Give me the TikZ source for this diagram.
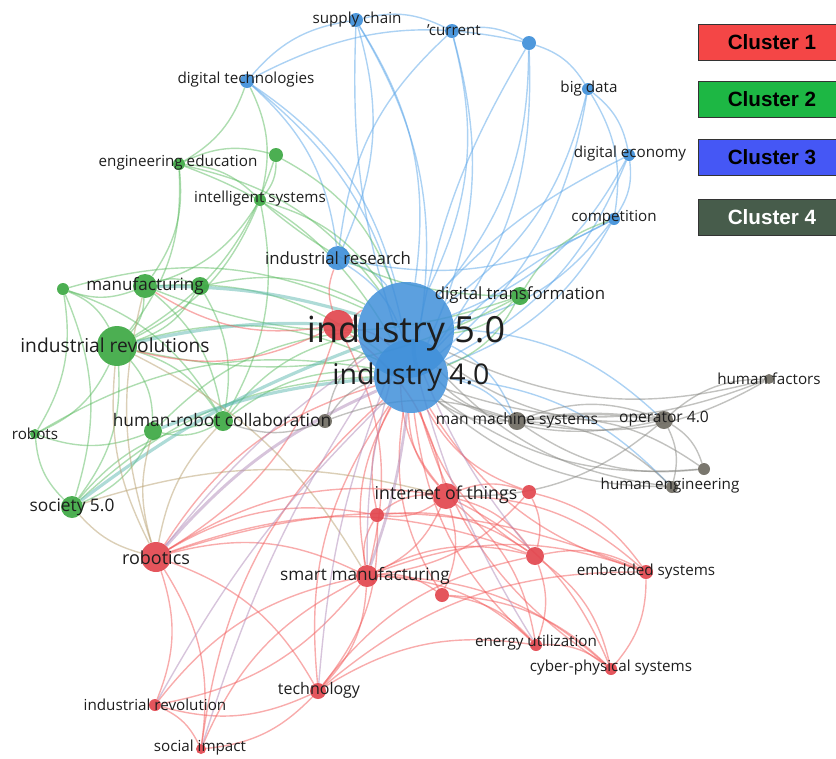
\documentclass[tikz,border=0pt]{standalone}
\usepackage{fontspec}
\setmainfont{Open Sans}
\newfontfamily\legendfont{Liberation Sans}
\usetikzlibrary{shadows}
\pgfdeclarelayer{edges}
\pgfsetlayers{edges,main}

\definecolor{nblue}{HTML}{3F8FD9}
\definecolor{ngreen}{HTML}{3DA843}
\definecolor{nred}{HTML}{E2464E}
\definecolor{ngrey}{HTML}{6F6B62}
\definecolor{eblue}{HTML}{5AA5E8}
\definecolor{egreen}{HTML}{5DBB62}
\definecolor{ered}{HTML}{F25A5A}
\definecolor{egrey}{HTML}{858580}
\definecolor{eteal}{HTML}{5EB8B0}
\definecolor{emauve}{HTML}{B08AB8}
\definecolor{eolive}{HTML}{B8A070}
\definecolor{lred}{HTML}{F44646}
\definecolor{lgreen}{HTML}{1DB744}
\definecolor{lblue}{HTML}{4557F5}
\definecolor{lgrey}{HTML}{475C4B}
\definecolor{txt}{HTML}{1E1E1E}

\tikzset{
  kw/.style={circle, inner sep=0pt, minimum size=#1*1.5pt, fill opacity=0.92},
  bn/.style={kw=#1, fill=nblue},
  gn/.style={kw=#1, fill=ngreen},
  rn/.style={kw=#1, fill=nred},
  yn/.style={kw=#1, fill=ngrey},
  lab/.style={text=txt, inner sep=0pt, font=\fontsize{#1pt}{#1pt}\selectfont},
  edge/.style={draw opacity=0.5, line width=1.05pt},
  eb/.style={edge, draw=eblue},
  eg/.style={edge, draw=egreen},
  er/.style={edge, draw=ered},
  ey/.style={edge, draw=egrey},
  et/.style={edge, draw=eteal},
  em/.style={edge, draw=emauve},
  eo/.style={edge, draw=eolive},
  legbox/.style={draw=black!80, line width=0.6pt, minimum width=110pt, minimum height=27pt,
     inner sep=0pt, font=\legendfont\bfseries\fontsize{15.5pt}{15.5pt}\selectfont,
     drop shadow={shadow xshift=1pt, shadow yshift=-1pt, opacity=0.35}}
}

\begin{document}
\begin{tikzpicture}[x=0.75pt,y=-0.75pt]
\useasboundingbox (0,0) rectangle (836,758);

% ---------------- nodes ----------------
% cluster 3 (blue)
\node[bn=48, fill opacity=0.85] (i5) at (406,330) {};
\node[bn=37, fill opacity=0.85] (i4) at (411,376) {};
\node[bn=12] (ir)  at (338,258) {};
\node[bn=7]  (sc)  at (356,20)  {};
\node[bn=7]  (cur) at (452,31)  {};
\node[bn=7]  (bu)  at (529,43)  {};
\node[bn=6]  (bd)  at (588,89)  {};
\node[bn=6]  (de)  at (629,155) {};
\node[bn=6]  (co)  at (614,219) {};
\node[bn=7]  (dt)  at (247,81)  {};
% cluster 2 (green)
\node[gn=6]  (ee)  at (179,164) {};
\node[gn=7]  (gu1) at (276,155) {};
\node[gn=6]  (is)  at (260,200) {};
\node[gn=12] (mf)  at (145,286) {};
\node[gn=6]  (gu2) at (63,289)  {};
\node[gn=9]  (gu3) at (200,286) {};
\node[gn=20] (irs) at (117,346) {};
\node[gn=10] (hrc) at (223,421) {};
\node[gn=9]  (gu4) at (153,431) {};
\node[gn=5]  (rob) at (35,434)  {};
\node[gn=11] (s5)  at (72,507)  {};
\node[gn=9]  (dtr) at (520,296) {};
% cluster 1 (red)
\node[rn=15] (ru)  at (338,325) {};
\node[rn=15] (rb)  at (156,557) {};
\node[rn=13] (iot) at (446,496) {};
\node[rn=7]  (r1)  at (529,492) {};
\node[rn=7]  (r2)  at (377,515) {};
\node[rn=9]  (r3)  at (535,556) {};
\node[rn=11] (sm)  at (367,576) {};
\node[rn=7]  (r4)  at (442,595) {};
\node[rn=7]  (es)  at (646,572) {};
\node[rn=6]  (eu)  at (536,645) {};
\node[rn=6]  (cps) at (611,669) {};
\node[rn=8]  (tech) at (318,691) {};
\node[rn=6]  (irv) at (155,705) {};
\node[rn=5]  (si)  at (201,749) {};
% cluster 4 (grey)
\node[yn=9]  (mms) at (517,421) {};
\node[yn=9]  (op)  at (664,420) {};
\node[yn=5]  (hf)  at (769,379) {};
\node[yn=6]  (he)  at (672,487) {};
\node[yn=6]  (g1)  at (704,469) {};
\node[yn=7]  (g2)  at (325,421) {};

% ---------------- edges ----------------
\begin{pgfonlayer}{edges}
\foreach \a/\b in {sc/i5, sc/i4, dt/sc, sc/cur, sc/ir, cur/bu, cur/i5, cur/i4, bu/bd, bu/i5,
  bu/i4, bd/de, bd/co, bd/i5, de/co, de/i5, de/i4, co/i5, co/i4, co/ir, dt/i5, dt/ir, dt/i4,
  ir/i5, ir/i4, i5/mms, dt/bu, ir/cur, bd/i4, i5/op, i4/he, i4/mms}
  \draw[eb] (\a) to[bend left=20] (\b);
\foreach \a/\b in {sc/i4, bu/i4, de/i5, co/i4}
  \draw[eb] (\a) to[bend right=10] (\b);
\draw[eb, line width=3pt] (i5) to[bend left=10] (i4);
\foreach \a/\b in {ee/is, ee/gu1, ee/irs, ee/mf, ee/i5, gu1/is, gu1/i5, gu1/irs, is/i5, is/irs,
  is/mf, mf/irs, mf/gu2, mf/gu3, gu3/i5, gu2/irs, gu2/rob, gu2/hrc, irs/i4, irs/hrc, irs/gu4,
  irs/s5, irs/rob, hrc/i5, hrc/gu4, hrc/i4, gu4/s5, gu4/rob, s5/i4, s5/rob, rob/i4, dtr/i5,
  dtr/i4, dtr/is, dtr/mf, dtr/co, gu4/i5, s5/hrc, gu2/i5, ee/i4, gu3/irs, mf/i4, dt/ee, dt/is,
  gu2/s5, mf/hrc, gu3/hrc, is/hrc, dtr/irs}
  \draw[eg] (\a) to[bend left=20] (\b);
\foreach \a/\b in {irs/i5, mf/i5, s5/i5, gu4/i4}
  \draw[et, line width=2.4pt] (\a) to[bend left=8] (\b);
\foreach \a/\b in {ru/i5, ru/i4, rb/i4, rb/irv, rb/si, rb/tech, rb/sm, rb/iot, iot/i5, iot/i4,
  iot/sm, iot/r1, iot/r2, iot/r3, iot/r4, iot/es, iot/eu, iot/cps, sm/i4, sm/tech, sm/r2, sm/r4,
  sm/r3, sm/es, sm/eu, sm/irv, r3/es, r3/eu, r3/cps, r3/i4, es/cps, es/i4, eu/cps, tech/si,
  tech/irv, tech/i4, tech/r3, irv/si, si/i4, r1/i4, r1/es, r4/eu, r4/i4, r2/i4, r2/r3, ru/rb,
  ru/sm, r1/r3, tech/eu, eu/i4, cps/i4, r1/sm, ru/iot, r2/tech, r4/cps, rb/r3, ru/ir, ru/mf,
  ru/irs, r2/iot, sm/cps, rb/es, tech/es, irv/sm, si/sm, rb/r2}
  \draw[er] (\a) to[bend left=20] (\b);
\foreach \a/\b in {rb/irs, rb/s5, rb/hrc, rb/gu4, rb/mf, irs/sm, s5/iot}
  \draw[eo] (\a) to[bend left=16] (\b);
\foreach \a/\b in {rb/i5, sm/i5, tech/i5, si/i5, r3/i5, eu/i5, irv/i4}
  \draw[em] (\a) to[bend left=8] (\b);
\draw[em, line width=2.2pt] (rb) to[bend left=12] (i4);
\draw[em, line width=2pt] (sm) to[bend right=6] (i4);
\foreach \a/\b in {mms/i5, mms/i4, mms/op, mms/he, mms/g1, op/i5, op/i4, op/hf, op/he, op/g1,
  hf/i4, hf/mms, he/i5, g2/i5, g2/i4, g2/hrc, g1/i4, he/i4, g1/mms, hf/i5, g2/mms, op/iot}
  \draw[ey] (\a) to[bend left=20] (\b);
\draw[ey, line width=2pt] (mms) to[bend left=8] (op);
\end{pgfonlayer}

% ---------------- labels ----------------
\node[lab=27]   (Li5)  at (406,333) {industry 5.0};
\node[lab=21.4] (Li4)  at (411,377) {industry 4.0};
\node[lab=12.6] (Lir)  at (338,258) {industrial research};
\node[lab=11.4] (Lsc)  at (357,20)  {supply chain};
\node[lab=11.4] (Lcur) at (454,30)  {'current};
\node[lab=11.4] (Lbd)  at (589,89)  {big data};
\node[lab=11.4] (Lde)  at (630,154) {digital economy};
\node[lab=11.4] (Lco)  at (614,218) {competition};
\node[lab=11.4] (Ldt)  at (246,80)  {digital technologies};
\node[lab=11.4] (Lee)  at (178,163) {engineering education};
\node[lab=11.4] (Lis)  at (260,199) {intelligent systems};
\node[lab=12.8] (Lmf)  at (145,286) {manufacturing};
\node[lab=14.4] (Lirs) at (115,345) {industrial revolutions};
\node[lab=13]   (Lhrc) at (222,420) {human-robot collaboration};
\node[lab=11.4] (Lrob) at (35,434)  {robots};
\node[lab=13]   (Ls5)  at (72,507)  {society 5.0};
\node[lab=12.6] (Ldtr) at (520,295) {digital transformation};
\node[lab=13.5] (Lrb)  at (156,558) {robotics};
\node[lab=13.3] (Liot) at (446,495) {internet of things};
\node[lab=12.9] (Lsm)  at (365,576) {smart manufacturing};
\node[lab=11.4] (Les)  at (646,572) {embedded systems};
\node[lab=11.4] (Leu)  at (536,643) {energy utilization};
\node[lab=11.4] (Lcps) at (611,668) {cyber-physical systems};
\node[lab=12]   (Ltech) at (319,690) {technology};
\node[lab=11.4] (Lirv) at (155,705) {industrial revolution};
\node[lab=11.4] (Lsi)  at (200,748) {social impact};
\node[lab=11.7] (Lmms) at (517,420) {man machine systems};
\node[lab=11.7] (Lop)  at (664,419) {operator 4.0};
\node[lab=11.4] (Lhf)  at (769,379) {human factors};
\node[lab=11.4] (Lhe)  at (670,486) {human engineering};

% ---------------- legend ----------------
\begin{scope}
\clip (0,0) rectangle (836,758);
\node[legbox, fill=lred]   (C1) at (772,42)  {Cluster 1};
\node[legbox, fill=lgreen] (C2) at (772,99)  {Cluster 2};
\node[legbox, fill=lblue]  (C3) at (772,157) {Cluster 3};
\node[legbox, fill=lgrey, text=white] (C4) at (772,217) {Cluster 4};
\end{scope}
\end{tikzpicture}
\end{document}
